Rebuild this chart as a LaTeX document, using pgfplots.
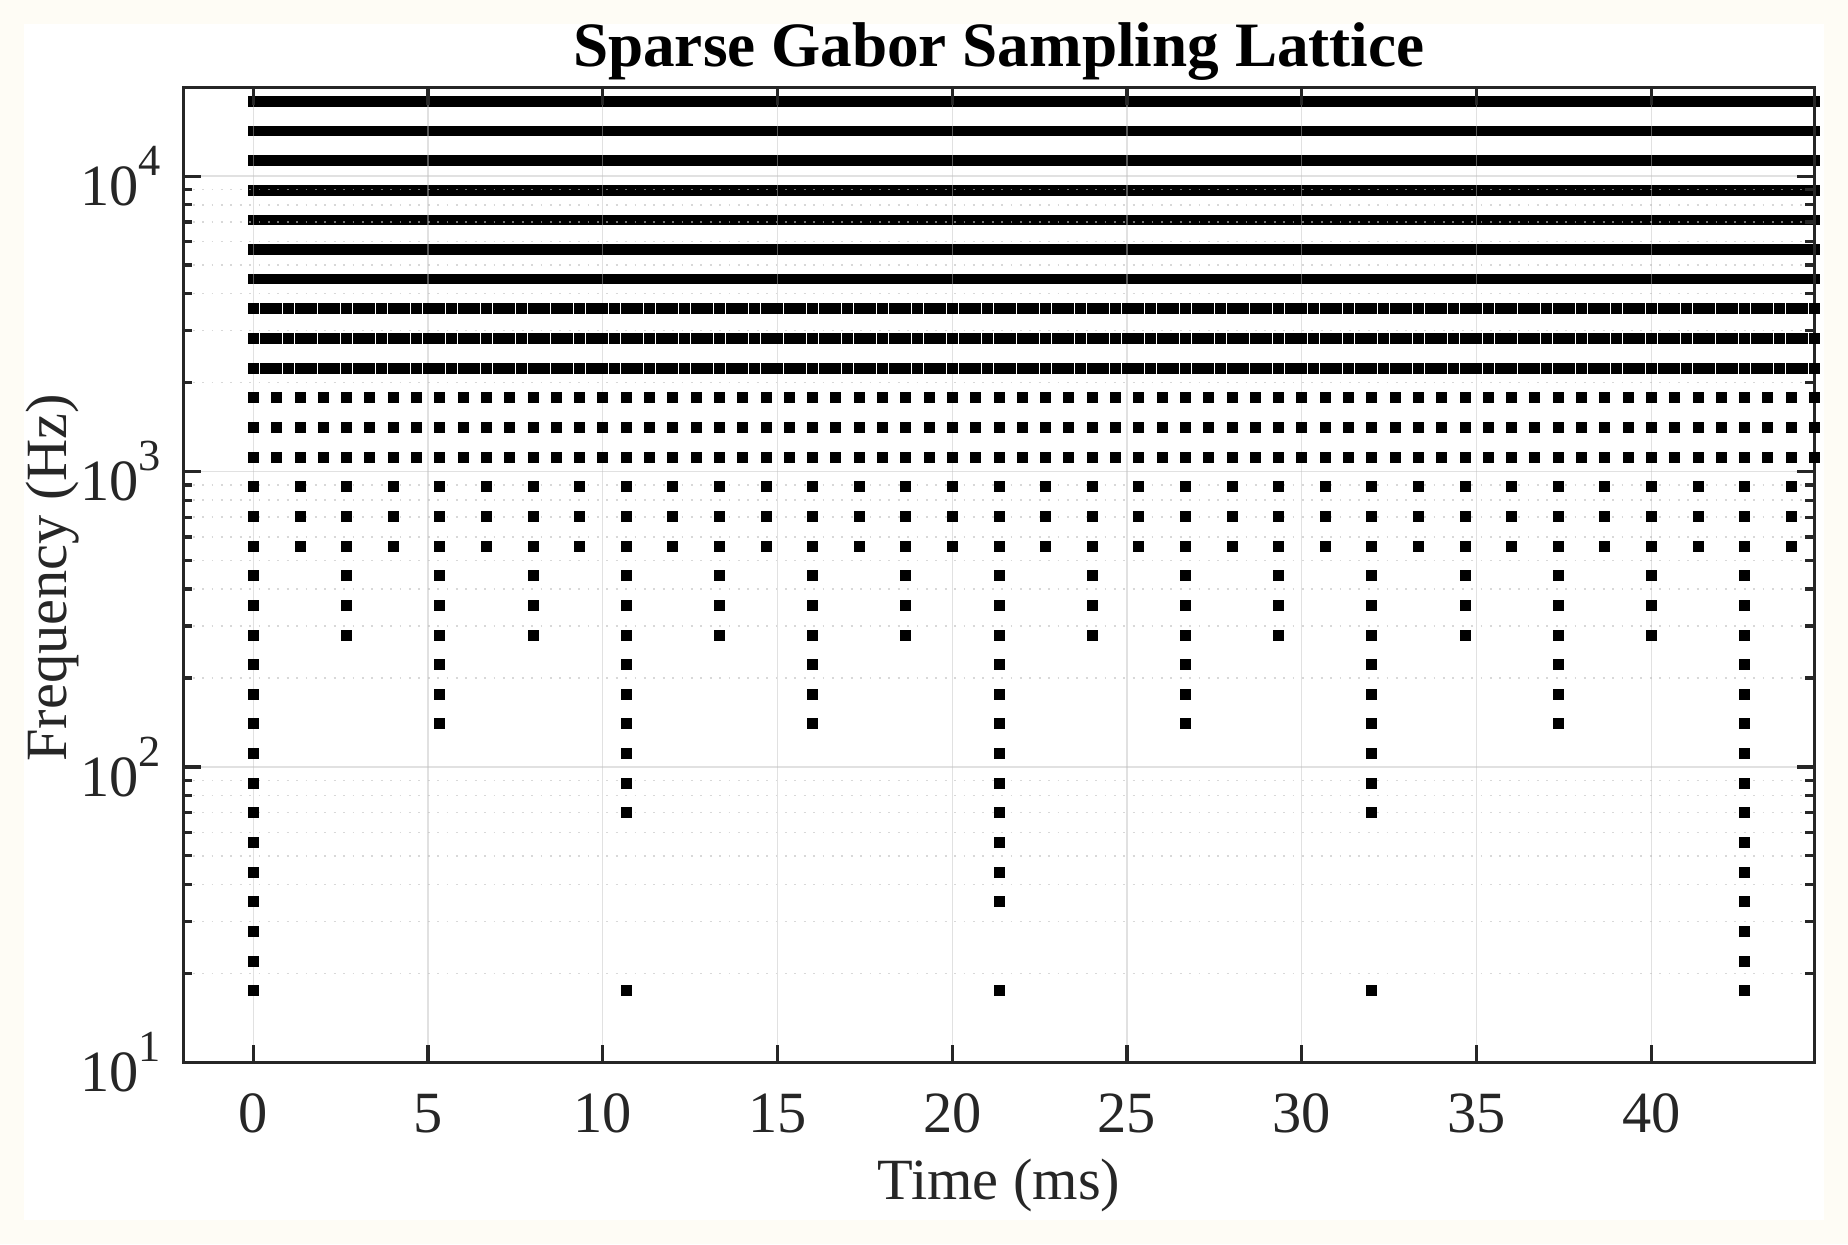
\documentclass[border=0pt]{standalone}
\usepackage{fontspec}
\setmainfont{Liberation Serif}
\usepackage{pgfplots}
\pgfplotsset{compat=1.18}
\usepackage{pgfplotstable}
\definecolor{cream}{RGB}{254,252,245}
\definecolor{axgray}{RGB}{38,38,38}
\definecolor{gridc}{RGB}{190,190,190}
\newcommand{\pw}[1]{10\raisebox{7.5pt}{\fontsize{11.1}{12}\selectfont #1}}

% lowest band, hop 10.667 ms
\pgfplotstableread{
t f
0 17.5
10.667 17.5
21.333 17.5
32 17.5
42.667 17.5
}\rowA
% hop 42.667 ms
\pgfplotstableread{
t a b
0 22.05 27.78
42.667 22.05 27.78
}\rowB
% hop 21.333 ms
\pgfplotstableread{
t a b c
0 35 44.1 55.56
21.333 35 44.1 55.56
42.667 35 44.1 55.56
}\rowC
% hop 10.667 ms
\pgfplotstableread{
t a b c
0 70 88.19 111.1
10.667 70 88.19 111.1
21.333 70 88.19 111.1
32 70 88.19 111.1
42.667 70 88.19 111.1
}\rowD
% hop 5.333 ms
\pgfplotstableread{
t a b c
0 140 176.4 222.2
5.333 140 176.4 222.2
10.667 140 176.4 222.2
16 140 176.4 222.2
21.333 140 176.4 222.2
26.667 140 176.4 222.2
32 140 176.4 222.2
37.333 140 176.4 222.2
42.667 140 176.4 222.2
}\rowE
% hop 2.667 ms
\pgfplotstableread{
t a b c
0 280 352.8 444.5
2.667 280 352.8 444.5
5.333 280 352.8 444.5
8 280 352.8 444.5
10.667 280 352.8 444.5
13.333 280 352.8 444.5
16 280 352.8 444.5
18.667 280 352.8 444.5
21.333 280 352.8 444.5
24 280 352.8 444.5
26.667 280 352.8 444.5
29.333 280 352.8 444.5
32 280 352.8 444.5
34.667 280 352.8 444.5
37.333 280 352.8 444.5
40 280 352.8 444.5
42.667 280 352.8 444.5
}\rowF
% hop 1.333 ms
\pgfplotstableread{
t a b c
0 560 705.6 888.9
1.333 560 705.6 888.9
2.667 560 705.6 888.9
4 560 705.6 888.9
5.333 560 705.6 888.9
6.667 560 705.6 888.9
8 560 705.6 888.9
9.333 560 705.6 888.9
10.667 560 705.6 888.9
12 560 705.6 888.9
13.333 560 705.6 888.9
14.667 560 705.6 888.9
16 560 705.6 888.9
17.333 560 705.6 888.9
18.667 560 705.6 888.9
20 560 705.6 888.9
21.333 560 705.6 888.9
22.667 560 705.6 888.9
24 560 705.6 888.9
25.333 560 705.6 888.9
26.667 560 705.6 888.9
28 560 705.6 888.9
29.333 560 705.6 888.9
30.667 560 705.6 888.9
32 560 705.6 888.9
33.333 560 705.6 888.9
34.667 560 705.6 888.9
36 560 705.6 888.9
37.333 560 705.6 888.9
38.667 560 705.6 888.9
40 560 705.6 888.9
41.333 560 705.6 888.9
42.667 560 705.6 888.9
44 560 705.6 888.9
}\rowG
% hop 0.667 ms
\pgfplotstableread{
t a b c
0 1120 1411 1778
0.667 1120 1411 1778
1.333 1120 1411 1778
2 1120 1411 1778
2.667 1120 1411 1778
3.333 1120 1411 1778
4 1120 1411 1778
4.667 1120 1411 1778
5.333 1120 1411 1778
6 1120 1411 1778
6.667 1120 1411 1778
7.333 1120 1411 1778
8 1120 1411 1778
8.667 1120 1411 1778
9.333 1120 1411 1778
10 1120 1411 1778
10.667 1120 1411 1778
11.333 1120 1411 1778
12 1120 1411 1778
12.667 1120 1411 1778
13.333 1120 1411 1778
14 1120 1411 1778
14.667 1120 1411 1778
15.333 1120 1411 1778
16 1120 1411 1778
16.667 1120 1411 1778
17.333 1120 1411 1778
18 1120 1411 1778
18.667 1120 1411 1778
19.333 1120 1411 1778
20 1120 1411 1778
20.667 1120 1411 1778
21.333 1120 1411 1778
22 1120 1411 1778
22.667 1120 1411 1778
23.333 1120 1411 1778
24 1120 1411 1778
24.667 1120 1411 1778
25.333 1120 1411 1778
26 1120 1411 1778
26.667 1120 1411 1778
27.333 1120 1411 1778
28 1120 1411 1778
28.667 1120 1411 1778
29.333 1120 1411 1778
30 1120 1411 1778
30.667 1120 1411 1778
31.333 1120 1411 1778
32 1120 1411 1778
32.667 1120 1411 1778
33.333 1120 1411 1778
34 1120 1411 1778
34.667 1120 1411 1778
35.333 1120 1411 1778
36 1120 1411 1778
36.667 1120 1411 1778
37.333 1120 1411 1778
38 1120 1411 1778
38.667 1120 1411 1778
39.333 1120 1411 1778
40 1120 1411 1778
40.667 1120 1411 1778
41.333 1120 1411 1778
42 1120 1411 1778
42.667 1120 1411 1778
43.333 1120 1411 1778
44 1120 1411 1778
44.667 1120 1411 1778
}\rowH
% hop 0.333 ms
\pgfplotstableread{
t a b c
0 2240 2822 3556
0.333 2240 2822 3556
0.667 2240 2822 3556
1 2240 2822 3556
1.333 2240 2822 3556
1.667 2240 2822 3556
2 2240 2822 3556
2.333 2240 2822 3556
2.667 2240 2822 3556
3 2240 2822 3556
3.333 2240 2822 3556
3.667 2240 2822 3556
4 2240 2822 3556
4.333 2240 2822 3556
4.667 2240 2822 3556
5 2240 2822 3556
5.333 2240 2822 3556
5.667 2240 2822 3556
6 2240 2822 3556
6.333 2240 2822 3556
6.667 2240 2822 3556
7 2240 2822 3556
7.333 2240 2822 3556
7.667 2240 2822 3556
8 2240 2822 3556
8.333 2240 2822 3556
8.667 2240 2822 3556
9 2240 2822 3556
9.333 2240 2822 3556
9.667 2240 2822 3556
10 2240 2822 3556
10.333 2240 2822 3556
10.667 2240 2822 3556
11 2240 2822 3556
11.333 2240 2822 3556
11.667 2240 2822 3556
12 2240 2822 3556
12.333 2240 2822 3556
12.667 2240 2822 3556
13 2240 2822 3556
13.333 2240 2822 3556
13.667 2240 2822 3556
14 2240 2822 3556
14.333 2240 2822 3556
14.667 2240 2822 3556
15 2240 2822 3556
15.333 2240 2822 3556
15.667 2240 2822 3556
16 2240 2822 3556
16.333 2240 2822 3556
16.667 2240 2822 3556
17 2240 2822 3556
17.333 2240 2822 3556
17.667 2240 2822 3556
18 2240 2822 3556
18.333 2240 2822 3556
18.667 2240 2822 3556
19 2240 2822 3556
19.333 2240 2822 3556
19.667 2240 2822 3556
20 2240 2822 3556
20.333 2240 2822 3556
20.667 2240 2822 3556
21 2240 2822 3556
21.333 2240 2822 3556
21.667 2240 2822 3556
22 2240 2822 3556
22.333 2240 2822 3556
22.667 2240 2822 3556
23 2240 2822 3556
23.333 2240 2822 3556
23.667 2240 2822 3556
24 2240 2822 3556
24.333 2240 2822 3556
24.667 2240 2822 3556
25 2240 2822 3556
25.333 2240 2822 3556
25.667 2240 2822 3556
26 2240 2822 3556
26.333 2240 2822 3556
26.667 2240 2822 3556
27 2240 2822 3556
27.333 2240 2822 3556
27.667 2240 2822 3556
28 2240 2822 3556
28.333 2240 2822 3556
28.667 2240 2822 3556
29 2240 2822 3556
29.333 2240 2822 3556
29.667 2240 2822 3556
30 2240 2822 3556
30.333 2240 2822 3556
30.667 2240 2822 3556
31 2240 2822 3556
31.333 2240 2822 3556
31.667 2240 2822 3556
32 2240 2822 3556
32.333 2240 2822 3556
32.667 2240 2822 3556
33 2240 2822 3556
33.333 2240 2822 3556
33.667 2240 2822 3556
34 2240 2822 3556
34.333 2240 2822 3556
34.667 2240 2822 3556
35 2240 2822 3556
35.333 2240 2822 3556
35.667 2240 2822 3556
36 2240 2822 3556
36.333 2240 2822 3556
36.667 2240 2822 3556
37 2240 2822 3556
37.333 2240 2822 3556
37.667 2240 2822 3556
38 2240 2822 3556
38.333 2240 2822 3556
38.667 2240 2822 3556
39 2240 2822 3556
39.333 2240 2822 3556
39.667 2240 2822 3556
40 2240 2822 3556
40.333 2240 2822 3556
40.667 2240 2822 3556
41 2240 2822 3556
41.333 2240 2822 3556
41.667 2240 2822 3556
42 2240 2822 3556
42.333 2240 2822 3556
42.667 2240 2822 3556
43 2240 2822 3556
43.333 2240 2822 3556
43.667 2240 2822 3556
44 2240 2822 3556
44.333 2240 2822 3556
44.667 2240 2822 3556
}\rowI
% densest bands (points overlap into continuous rows)
\pgfplotstableread{
t a b c d e f g
0 4480 5644 7112 8960 11289 14223 17920
44.667 4480 5644 7112 8960 11289 14223 17920
}\rowJ

\begin{document}
\begin{tikzpicture}
\useasboundingbox (0,0) rectangle (462pt,311pt);
\fill[cream] (0,0) rectangle (462pt,311pt);
\fill[white] (6pt,6pt) rectangle (456pt,305pt);
\begin{axis}[
  at={(45.83pt,45.43pt)}, anchor=south west,
  scale only axis, width=407.75pt, height=243.75pt,
  xmin=-2, xmax=44.667,
  ymode=log, ymin=10, ymax=20000,
  clip=false, axis on top,
  axis line style={draw=axgray, line width=0.85pt},
  tick style={draw=axgray, line width=0.8pt},
  major tick length=4.4pt, minor tick length=2.25pt,
  tick align=inside,
  xtick={0,5,10,15,20,25,30,35,40},
  xticklabels={0,5,10,15,20,25,30,35,40},
  xminorticks=false,
  ytick={10,100,1000,10000},
  yticklabels={\pw{1},\pw{2},\pw{3},\pw{4}},
  minor ytick={20,30,40,50,60,70,80,90,200,300,400,500,600,700,800,900,2000,3000,4000,5000,6000,7000,8000,9000},
  xmajorgrids, ymajorgrids, yminorgrids,
  major grid style={draw=gridc, line width=0.35pt, draw opacity=0.45},
  minor grid style={draw=gridc, line width=0.4pt, draw opacity=0.6, dash pattern=on 0.45pt off 1.9pt},
  xticklabel style={anchor=north, inner sep=0pt, yshift=-7.75pt, font=\fontsize{14.6}{17}\selectfont, text=axgray},
  yticklabel style={anchor=east, inner sep=0pt, xshift=-5.4pt, font=\fontsize{14.6}{17}\selectfont, text=axgray},
  every axis title shift=0pt,
  title={Sparse Gabor Sampling Lattice},
  title style={at={(axis description cs:0.5,1.0208)}, anchor=base, inner sep=0pt, font=\fontsize{15.8}{19}\selectfont\bfseries, text=black},
  xlabel={Time (ms)},
  xlabel style={at={(axis description cs:0.5,-0.1412)}, anchor=base, inner sep=0pt, font=\fontsize{14.6}{17}\selectfont, text=axgray},
  ylabel={Frequency (Hz)},
  ylabel style={at={(axis description cs:-0.0719,0.497)}, anchor=base, inner sep=0pt, font=\fontsize{14.6}{17}\selectfont, text=axgray},
  lat/.style={only marks, mark=square*, mark size=1.25pt, black, mark options={line width=0.15pt, solid}},
  band/.style={black, line width=2.65pt, line cap=rect},
]
\addplot[lat] table[x=t,y=f]{\rowA};
\addplot[lat] table[x=t,y=a]{\rowB};
\addplot[lat] table[x=t,y=b]{\rowB};
\addplot[lat] table[x=t,y=a]{\rowC};
\addplot[lat] table[x=t,y=b]{\rowC};
\addplot[lat] table[x=t,y=c]{\rowC};
\addplot[lat] table[x=t,y=a]{\rowD};
\addplot[lat] table[x=t,y=b]{\rowD};
\addplot[lat] table[x=t,y=c]{\rowD};
\addplot[lat] table[x=t,y=a]{\rowE};
\addplot[lat] table[x=t,y=b]{\rowE};
\addplot[lat] table[x=t,y=c]{\rowE};
\addplot[lat] table[x=t,y=a]{\rowF};
\addplot[lat] table[x=t,y=b]{\rowF};
\addplot[lat] table[x=t,y=c]{\rowF};
\addplot[lat] table[x=t,y=a]{\rowG};
\addplot[lat] table[x=t,y=b]{\rowG};
\addplot[lat] table[x=t,y=c]{\rowG};
\addplot[lat] table[x=t,y=a]{\rowH};
\addplot[lat] table[x=t,y=b]{\rowH};
\addplot[lat] table[x=t,y=c]{\rowH};
\addplot[lat] table[x=t,y=a]{\rowI};
\addplot[lat] table[x=t,y=b]{\rowI};
\addplot[lat] table[x=t,y=c]{\rowI};
\addplot[band] table[x=t,y=a]{\rowJ};
\addplot[band] table[x=t,y=b]{\rowJ};
\addplot[band] table[x=t,y=c]{\rowJ};
\addplot[band] table[x=t,y=d]{\rowJ};
\addplot[band] table[x=t,y=e]{\rowJ};
\addplot[band] table[x=t,y=f]{\rowJ};
\addplot[band] table[x=t,y=g]{\rowJ};
\end{axis}
\end{tikzpicture}
\end{document}
